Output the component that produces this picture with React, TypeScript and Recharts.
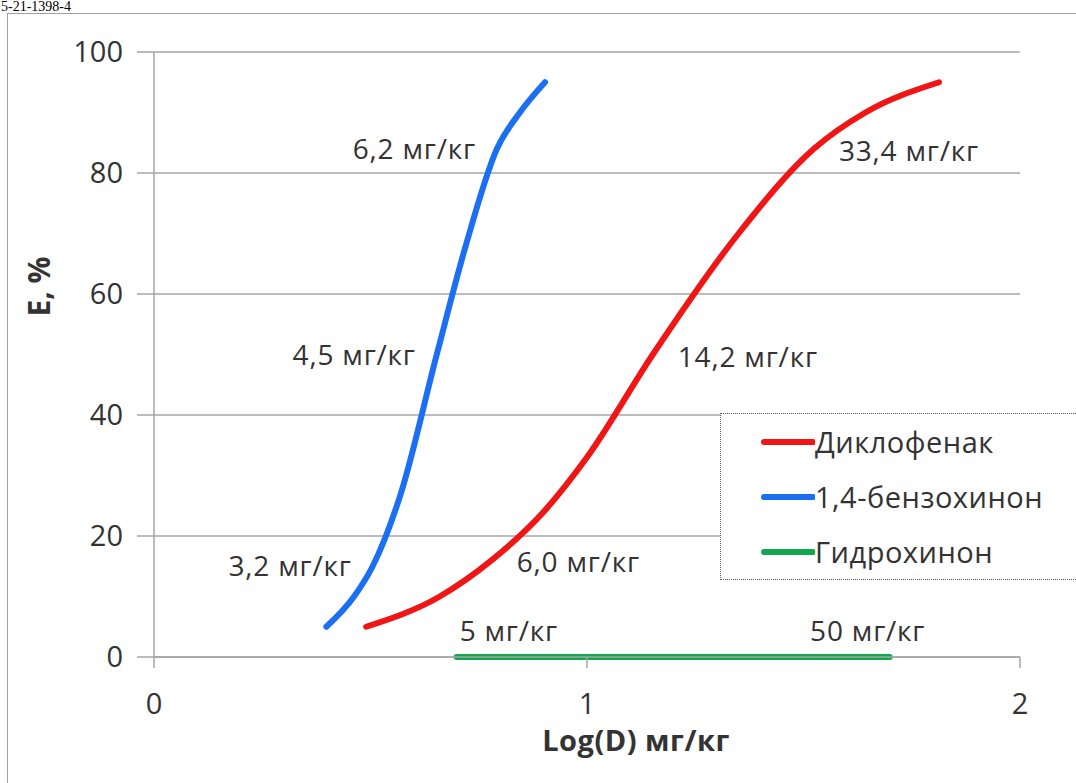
import React from "react";
import {
  LineChart,
  Line,
  XAxis,
  YAxis,
  CartesianGrid,
  Legend,
  LabelList,
} from "recharts";

// log(dose) values and effect
const DICLO_X = [0.49, 0.66, 0.78, 0.9, 1.0, 1.152, 1.35, 1.524, 1.643, 1.813];
const DICLO_Y = [5, 10, 16, 24, 33, 50, 70, 84, 90, 95];
const DICLO_LABELS = ["", "", "6,0 мг/кг", "", "", "14,2 мг/кг", "", "33,4 мг/кг", "", ""];

const BQ_X = [0.398, 0.462, 0.505, 0.57, 0.653, 0.72, 0.792, 0.845, 0.903];
const BQ_Y = [5, 10, 15, 27, 50, 68, 84, 90, 95];
const BQ_LABELS = ["", "", "3,2 мг/кг", "", "4,5 мг/кг", "", "6,2 мг/кг", "", ""];

const HQ_X = [0.699, 1.699];
const HQ_Y = [0, 0];
const HQ_LABELS = ["5 мг/кг", "50 мг/кг"];

const X_TICKS = [0, 1, 2];
const Y_TICKS = [0, 20, 40, 60, 80, 100];

const SERIES_NAMES = ["Диклофенак", "1,4-бензохинон", "Гидрохинон"];
const COLORS = ["#f01616", "#1a6ff2", "#12a84f"];

const toRows = (xs: number[], ys: number[], labels: string[]) =>
  xs.map((x, i) => ({ x, y: ys[i], label: labels[i] }));

const dicloData = toRows(DICLO_X, DICLO_Y, DICLO_LABELS);
const bqData = toRows(BQ_X, BQ_Y, BQ_LABELS);
const hqData = toRows(HQ_X, HQ_Y, HQ_LABELS);

const FONT = "'Open Sans', sans-serif";
const GRID = "#a6a6a6";
const TEXT = "#333";

const makeLabel = (side: "left" | "right" | "above", count: number) => (props: any) => {
  const { x, y, value, index } = props;
  if (!value) return null;
  let tx = x;
  let ty = y + 10;
  let anchor: "start" | "end" | "middle" = "start";
  if (side === "left") {
    tx = x - 21;
    anchor = "end";
  } else if (side === "right") {
    tx = x + 25;
    ty = y + 12;
  } else {
    ty = y - 16;
    if (index === count - 1) {
      tx = x - 22;
      anchor = "middle";
    } else {
      tx = x + 3;
    }
  }
  return (
    <text
      x={tx}
      y={ty}
      textAnchor={anchor}
      fontSize={28}
      letterSpacing={0.8}
      fontFamily={FONT}
      fill={TEXT}
    >
      {value}
    </text>
  );
};

const LegendBox = () => (
  <div style={{ fontFamily: FONT, fontSize: 29, color: TEXT, letterSpacing: 0.5 }}>
    {SERIES_NAMES.map((name, i) => (
      <div key={name} style={{ display: "flex", alignItems: "center", height: 55, marginLeft: 40 }}>
        <svg width="54" height="10" style={{ flex: "none" }}>
          <line x1="3" y1="5" x2="52" y2="5" stroke={COLORS[i]} strokeWidth="6" strokeLinecap="round" />
        </svg>
        <span style={{ marginLeft: 0 }}>{name}</span>
      </div>
    ))}
  </div>
);

export default function App() {
  return (
    <div
      style={{
        position: "fixed",
        left: 0,
        top: 0,
        width: 1076,
        height: 783,
        overflow: "hidden",
        background: "#fff",
      }}
    >
      <div
        style={{
          position: "absolute",
          left: 1,
          top: 0,
          fontFamily: "'Liberation Serif', serif",
          fontSize: 14,
          lineHeight: "14px",
          whiteSpace: "nowrap",
        }}
      >
        5-21-1398-4
      </div>
      <div
        style={{
          position: "absolute",
          left: 7,
          top: 13,
          width: 1100,
          height: 800,
          border: "1px solid #a0a0a0",
        }}
      />
      <div style={{ position: "absolute", left: 0, top: 0 }}>
        <LineChart width={1076} height={783} margin={{ top: 52, right: 56, bottom: 0, left: 0 }}>
          <CartesianGrid horizontal vertical={false} stroke={GRID} strokeWidth={1.5} />
          <XAxis
            type="number"
            dataKey="x"
            domain={[0, 2]}
            ticks={X_TICKS}
            height={126}
            tickSize={11}
            tickMargin={25}
            axisLine={{ stroke: GRID, strokeWidth: 1.5 }}
            tickLine={{ stroke: GRID, strokeWidth: 1.5 }}
            tick={{ fontSize: 29, fontFamily: FONT, fill: TEXT }}
            label={{
              content: (p: any) => {
                const vb = p.viewBox;
                return (
                  <text
                    x={vb.x + vb.width / 2 + 49}
                    y={vb.y + 94}
                    textAnchor="middle"
                    fontSize={29}
                    letterSpacing={0.5}
                    fontWeight="bold"
                    fontFamily={FONT}
                    fill={TEXT}
                  >
                    Log(D) мг/кг
                  </text>
                );
              },
            }}
          />
          <YAxis
            type="number"
            dataKey="y"
            domain={[0, 100]}
            ticks={Y_TICKS}
            width={154}
            tickSize={17}
            tickMargin={14}
            axisLine={{ stroke: GRID, strokeWidth: 1.5 }}
            tickLine={{ stroke: GRID, strokeWidth: 1.5 }}
            tick={{ fontSize: 29, fontFamily: FONT, fill: TEXT }}
            label={{
              content: (p: any) => {
                const vb = p.viewBox;
                const cx = vb.x + 50;
                const cy = vb.y + vb.height / 2 - 68;
                return (
                  <text
                    x={cx}
                    y={cy}
                    transform={`rotate(-90 ${cx} ${cy})`}
                    textAnchor="middle"
                    fontSize={30}
                    fontWeight="bold"
                    fontFamily={FONT}
                    fill={TEXT}
                  >
                    E, %
                  </text>
                );
              },
            }}
          />
          <Legend
            layout="horizontal"
            verticalAlign="middle"
            align="center"
            content={() => <LegendBox />}
            wrapperStyle={{
              position: "absolute",
              left: 720,
              top: 413,
              width: 420,
              height: 167,
              border: "1px dotted #555",
              background: "#fff",
              boxSizing: "border-box",
            }}
          />
          <Line
            data={hqData}
            dataKey="y"
            name={SERIES_NAMES[2]}
            type="monotone"
            stroke={COLORS[2]}
            strokeWidth={6}
            strokeLinecap="round"
            dot={false}
            isAnimationActive={false}
          >
            <LabelList dataKey="label" content={makeLabel("above", HQ_X.length)} />
          </Line>
          <Line
            data={bqData}
            dataKey="y"
            name={SERIES_NAMES[1]}
            type="monotone"
            stroke={COLORS[1]}
            strokeWidth={6}
            strokeLinecap="round"
            dot={false}
            isAnimationActive={false}
          >
            <LabelList dataKey="label" content={makeLabel("left", BQ_X.length)} />
          </Line>
          <Line
            data={dicloData}
            dataKey="y"
            name={SERIES_NAMES[0]}
            type="monotone"
            stroke={COLORS[0]}
            strokeWidth={6}
            strokeLinecap="round"
            dot={false}
            isAnimationActive={false}
          >
            <LabelList dataKey="label" content={makeLabel("right", DICLO_X.length)} />
          </Line>
        </LineChart>
      </div>
    </div>
  );
}
